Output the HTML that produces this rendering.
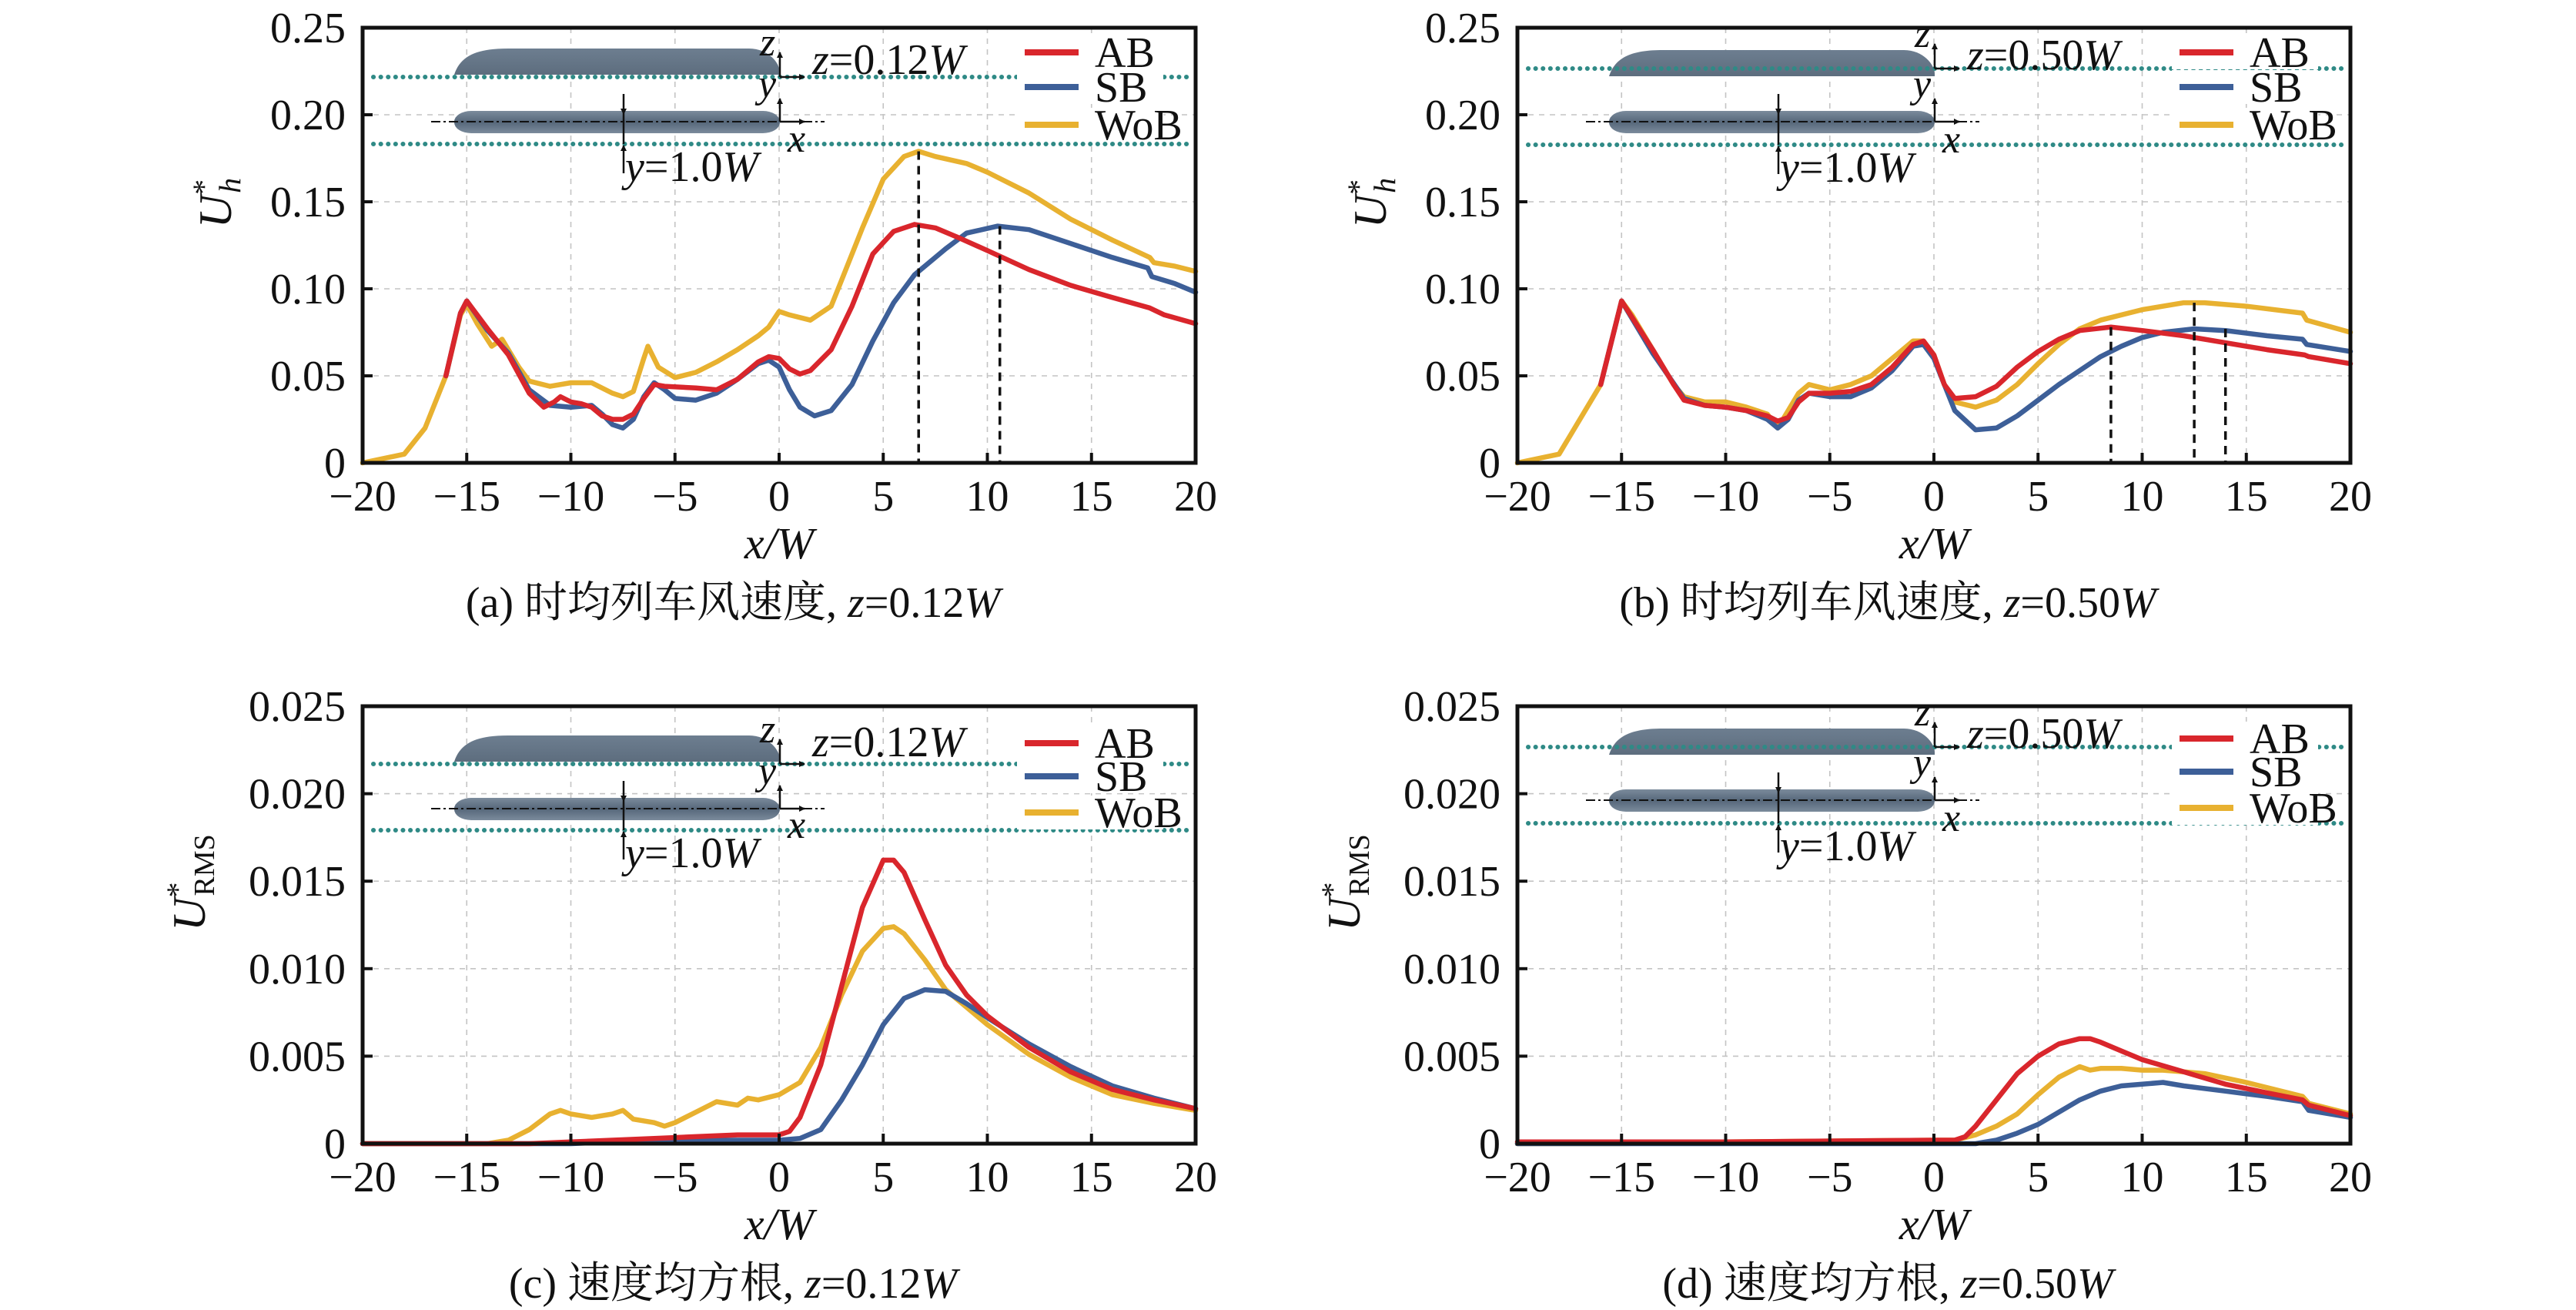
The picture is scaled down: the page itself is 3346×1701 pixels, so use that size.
<!DOCTYPE html>
<html><head><meta charset="utf-8">
<style>
html,body{margin:0;padding:0;background:#fff;}
svg{display:block;font-family:"Liberation Serif","Noto Serif CJK SC","Noto Sans CJK SC",serif;}
</style></head>
<body>
<svg id="fig" width="3346" height="1701" viewBox="0 0 3346 1701" xmlns="http://www.w3.org/2000/svg">
<defs>
<linearGradient id="trainSide" x1="0" y1="0" x2="0" y2="1"><stop offset="0" stop-color="#6d7e90"/><stop offset="1" stop-color="#5d6d7e"/></linearGradient>
<linearGradient id="trainTop" x1="0" y1="0" x2="0" y2="1"><stop offset="0" stop-color="#7b8b9c"/><stop offset="0.5" stop-color="#56677a"/><stop offset="1" stop-color="#7b8b9c"/></linearGradient>
<marker id="arr" markerWidth="8" markerHeight="8" refX="7" refY="4" orient="auto" markerUnits="userSpaceOnUse"><path d="M0,0 L8,4 L0,8 Z" fill="#111"/></marker>
</defs>
</svg>
<script>
// ---------- data ----------
const seriesNames = ["AB", "SB", "WoB"];
const xTicks = [-20, -15, -10, -5, 0, 5, 10, 15, 20];
const yTicksMean = [0, 0.05, 0.10, 0.15, 0.20, 0.25];
const yTickLabelsMean = ["0", "0.05", "0.10", "0.15", "0.20", "0.25"];
const yTicksRms = [0, 0.005, 0.010, 0.015, 0.020, 0.025];
const yTickLabelsRms = ["0", "0.005", "0.010", "0.015", "0.020", "0.025"];

// panel (a)
const aWoBx = [-20,-18,-17,-16,-15.3,-15,-14.5,-13.8,-13.3,-12.5,-12,-11,-10,-9,-8,-7.5,-7,-6.5,-6.3,-5.8,-5,-4,-3,-2,-1,-0.5,0,0.5,1.5,2.5,3,4,5,6,6.7,7.5,9,10,12,14,16,17.8,18,19,20];
const aWoBy = [0,0.005,0.02,0.05,0.085,0.091,0.08,0.067,0.071,0.055,0.047,0.044,0.046,0.046,0.04,0.038,0.041,0.06,0.067,0.055,0.049,0.052,0.058,0.065,0.073,0.078,0.087,0.085,0.082,0.09,0.105,0.135,0.163,0.176,0.179,0.176,0.172,0.167,0.155,0.14,0.128,0.118,0.115,0.113,0.11];
const aABx = [-16,-15.3,-15,-14,-13,-12,-11.3,-10.8,-10.5,-10,-9.5,-9,-8.5,-8,-7.5,-7,-6.5,-6,-5.5,-4,-3,-2,-1,-0.5,0,0.5,1,1.5,2.5,3.5,4.5,5.5,6.5,7.5,8.5,10,12,14,16,17.8,18.5,20];
const aABy = [0.05,0.086,0.093,0.077,0.062,0.04,0.032,0.035,0.038,0.035,0.034,0.032,0.027,0.025,0.025,0.028,0.037,0.045,0.044,0.043,0.042,0.048,0.058,0.061,0.06,0.054,0.051,0.053,0.065,0.09,0.12,0.133,0.137,0.135,0.13,0.122,0.111,0.102,0.095,0.089,0.085,0.08];
const aSBx = [-16,-15.3,-15,-14,-13,-12,-11,-10,-9,-8.5,-8,-7.5,-7,-6.5,-6,-5.5,-5,-4,-3,-2,-1,-0.5,0,0.5,1,1.7,2.5,3.5,4.5,5.5,6.5,8,9,10.5,12,14,16,17.7,17.9,19,20];
const aSBy = [0.05,0.086,0.093,0.076,0.063,0.042,0.033,0.032,0.033,0.028,0.022,0.02,0.025,0.038,0.046,0.042,0.037,0.036,0.04,0.048,0.057,0.059,0.055,0.042,0.032,0.027,0.03,0.045,0.07,0.092,0.108,0.123,0.132,0.136,0.134,0.126,0.118,0.112,0.107,0.103,0.098];
const aPeakX = [6.7, 10.6];
const aPeakY = [0.179, 0.136];

// panel (b)
const bWoBx = [-20,-18,-16,-15,-14.5,-13.5,-12.5,-12,-11,-10,-9,-8,-7.5,-7,-6.5,-6,-5,-4,-3,-2,-1,-0.5,0,0.5,1,2,3,4,5,6,7,8,10,12,13,15,17.7,17.9,20];
const bWoBy = [0,0.005,0.045,0.093,0.085,0.065,0.045,0.038,0.035,0.035,0.032,0.028,0.02,0.03,0.04,0.045,0.042,0.045,0.05,0.06,0.07,0.07,0.062,0.045,0.035,0.032,0.036,0.045,0.057,0.068,0.077,0.082,0.088,0.092,0.092,0.09,0.086,0.082,0.075];
const bABx = [-16,-15,-13.5,-12.5,-12,-11,-10,-9,-8,-7.5,-7,-6.5,-6,-5,-4,-3,-2,-1,-0.5,0,0.5,1,2,3,4,5,6,7,8.5,10,12,14,16,17.8,18,20];
const bABy = [0.045,0.093,0.065,0.045,0.036,0.033,0.032,0.03,0.027,0.024,0.026,0.035,0.04,0.04,0.041,0.045,0.055,0.068,0.07,0.062,0.045,0.037,0.038,0.044,0.055,0.064,0.071,0.076,0.078,0.076,0.073,0.069,0.065,0.062,0.061,0.057];
const bSBx = [-16,-15,-13.5,-12,-11,-10,-9,-8,-7.5,-7,-6.5,-6,-5,-4,-3,-2,-1,-0.5,0,0.5,1,2,3,4,5,6,7,8,9,10,11,12.5,14,16,17.7,17.9,20];
const bSBy = [0.045,0.093,0.063,0.037,0.033,0.032,0.03,0.025,0.02,0.025,0.036,0.04,0.038,0.038,0.043,0.053,0.067,0.068,0.06,0.045,0.03,0.019,0.02,0.027,0.036,0.045,0.053,0.061,0.067,0.072,0.075,0.077,0.076,0.073,0.071,0.068,0.064];
const bPeakX = [8.5, 12.5, 14];
const bPeakY = [0.078, 0.092, 0.077];

// panel (c)
const cWoBx = [-20,-14,-13,-12,-11,-10.5,-10,-9,-8,-7.5,-7,-6,-5.5,-5,-4,-3,-2,-1.5,-1,0,1,2,3,4,5,5.5,6,7,8,10,12,14,16,18,20];
const cWoBy = [0,0,0.0002,0.0008,0.0017,0.0019,0.0017,0.0015,0.0017,0.0019,0.0014,0.0012,0.001,0.0012,0.0018,0.0024,0.0022,0.0026,0.0025,0.0028,0.0035,0.0055,0.0085,0.011,0.0123,0.0124,0.012,0.0105,0.0088,0.0068,0.0051,0.0038,0.0028,0.0023,0.0019];
const cABx = [-20,-12,-10,-8,-6,-4,-2,0,0.5,1,2,3,4,5,5.5,6,7,8,9,10,12,14,16,18,20];
const cABy = [0,0,0.0001,0.0002,0.0003,0.0004,0.0005,0.0005,0.0007,0.0015,0.0045,0.009,0.0135,0.0162,0.0162,0.0155,0.0128,0.0102,0.0085,0.0073,0.0055,0.0041,0.0031,0.0025,0.002];
const cSBx = [-20,-10,-8,-4,0,1,2,3,4,5,6,7,8,9,10,12,14,16,18,20];
const cSBy = [0,0,0.0001,0.0002,0.0002,0.0003,0.0008,0.0025,0.0045,0.0068,0.0083,0.0088,0.0087,0.008,0.0072,0.0057,0.0044,0.0033,0.0026,0.002];

// panel (d)
const dWoBx = [-20,-15,-10,-5,0,1,2,3,4,5,6,7,7.5,8,9,10,11,12,13,15,17.7,18,20];
const dWoBy = [0,0,0.0001,0.00015,0.0002,0.0002,0.0005,0.001,0.0017,0.0028,0.0038,0.0044,0.0042,0.0043,0.0043,0.0042,0.0042,0.0041,0.004,0.0035,0.0027,0.0023,0.0017];
const dABx = [-20,-10,0,1,1.5,2,3,4,5,6,7,7.5,8,9,10,12,14,16,17.7,18,20];
const dABy = [0.0001,0.0001,0.0002,0.0002,0.0004,0.001,0.0025,0.004,0.005,0.0057,0.006,0.006,0.0058,0.0053,0.0048,0.0041,0.0034,0.0029,0.0025,0.0022,0.0016];
const dSBx = [-20,2,2.5,3,4,5,6,7,8,9,10,11,12,14,16,17.7,18,20];
const dSBy = [0,0,0.0001,0.0002,0.0006,0.0011,0.0018,0.0025,0.003,0.0033,0.0034,0.0035,0.0033,0.003,0.0027,0.0024,0.0019,0.0015];

// ---------- drawing ----------
const NS = "http://www.w3.org/2000/svg";
const svg = document.getElementById("fig");
const COLORS = {AB:"#d9262c", SB:"#3d5f98", WoB:"#e8b130"};
function mk(tag, attrs, parent){
  const e = document.createElementNS(NS, tag);
  for (const k in attrs) e.setAttribute(k, attrs[k]);
  (parent || svg).appendChild(e);
  return e;
}

function panel(cfg){
  const g = mk("g", {});
  
  
  const L = cfg.left, T = cfg.top, R = L + 1082, B = cfg.bottom;
  const X = v => L + (v + 20) / 40 * (R - L);
  const Y = v => B - v / cfg.ymax * (B - T);

  // grid
  xTicks.forEach(t => {
    if (t === -20 || t === 20) return;
    const gl = mk("line", {x1:X(t), x2:X(t), y1:T, y2:B, stroke:"#c4c4c4", "stroke-width":1.6, "stroke-dasharray":"7,7"}, g);
    
    
  });
  cfg.yTicks.forEach(t => {
    if (t === 0 || t === cfg.ymax) return;
    const gl = mk("line", {x1:L, x2:R, y1:Y(t), y2:Y(t), stroke:"#c4c4c4", "stroke-width":1.6, "stroke-dasharray":"7,7"}, g);
    
    
  });

  // inset
  const ins = mk("g", {}, g);
  
  
  const tx0 = L + 119, tx1 = L + 542;
  const du = T + cfg.dotU, dl = T + cfg.dotL;
  const sideBot = du + cfg.sideOff;
  const side = mk("path", {d:`M${tx0},${sideBot} C${tx0+8},${sideBot-25} ${tx0+30},${sideBot-34} ${tx0+70},${sideBot-34} L${tx1-40},${sideBot-34} C${tx1-15},${sideBot-34} ${tx1},${sideBot-15} ${tx1},${sideBot-3} L${tx1},${sideBot} Z`, fill:"url(#trainSide)"}, ins);
  
  
  const cy = T + cfg.trainMid;
  const top = mk("rect", {x:tx0, y:cy-14, width:tx1-tx0, height:29, rx:22, ry:14, fill:"url(#trainTop)"}, ins);
  
  
  const cl = mk("line", {x1:L+89, x2:L+600, y1:cy, y2:cy, stroke:"#111", "stroke-width":2, "stroke-dasharray":"12,4,3,4"}, ins);
  
  
  [du, dl].forEach((yy, i) => {
    const dl1 = mk("line", {x1:L+14, x2:R-3, y1:yy, y2:yy, stroke:"#2f8a86", "stroke-width":6, "stroke-linecap":"round", "stroke-dasharray":"0.1,9.5"}, ins);
    
    
  });
  const ox = L + 542;
  [[ox, du, ox, du-32],[ox, du, ox+32, du],[ox, cy, ox, cy-30],[ox, cy, ox+32, cy]].forEach(a => {
    const ar = mk("line", {x1:a[0], y1:a[1], x2:a[2], y2:a[3], stroke:"#111", "stroke-width":2.5, "marker-end":"url(#arr)"}, ins);
    
    
  });
  const mx = L + 339;
  [[mx, cy-36, mx, cy-10],[mx, dl+38, mx, dl+2]].forEach(a => {
    const ar = mk("line", {x1:a[0], y1:a[1], x2:a[2], y2:a[3], stroke:"#111", "stroke-width":2.5, "marker-end":"url(#arr)"}, ins);
    
    
  });
  mk("line", {x1:mx, x2:mx, y1:cy-10, y2:dl, stroke:"#111", "stroke-width":2.5}, ins);
  const lbls = [["z", ox-26, du-28], ["y", ox-28, cy-32], ["x", ox+10, dl+10]];
  lbls.forEach(l => {
    const t = mk("text", {x:l[1], y:l[2], "font-size":52, "font-style":"italic", fill:"#111"}, ins);
    t.textContent = l[0];
    
    
  });
  const zl = mk("text", {x:L+584, y:T+cfg.zY, "font-size":56, fill:"#111"}, ins);
  zl.innerHTML = '<tspan font-style="italic">z</tspan>=0.' + cfg.zval + '<tspan font-style="italic">W</tspan>';
  
  
  const yl = mk("text", {x:mx+2, y:dl+48, "font-size":56, fill:"#111"}, ins);
  yl.innerHTML = '<tspan font-style="italic">y</tspan>=1.0<tspan font-style="italic">W</tspan>';
  
  

  // series
  cfg.series.forEach(s => {
    const d = s.x.map((v, i) => (i ? "L" : "M") + X(v).toFixed(1) + "," + Y(s.y[i]).toFixed(1)).join(" ");
    const p = mk("path", {d:d, fill:"none", stroke:COLORS[s.name], "stroke-width":6.5, "stroke-linejoin":"round", "stroke-linecap":"round"}, g);
    
    
  });
  if (cfg.peakX) cfg.peakX.forEach((v, i) => {
    const pl = mk("line", {x1:X(v), x2:X(v), y1:Y(cfg.peakY[i]), y2:B, stroke:"#111", "stroke-width":3.5, "stroke-dasharray":"11,8"}, g);
    
    
  });

  // legend
  const lg = mk("g", {}, g);
  
  
  seriesNames.forEach((n, i) => {
    const yy = T + cfg.legY[i];
    mk("rect", {x:R-232, y:yy-22, width:190, height:44, fill:"#fff"}, lg);
    const ln = mk("line", {x1:R-222, x2:R-152, y1:yy, y2:yy, stroke:COLORS[n], "stroke-width":8}, lg);
    
    
    const lt = mk("text", {x:R-131, y:yy+19, "font-size":56, fill:"#111"}, lg);
    lt.textContent = n;
    
    
  });

  const fr = mk("rect", {x:L, y:T, width:R-L, height:B-T, fill:"none", stroke:"#111", "stroke-width":5}, g);
  
  
  xTicks.forEach(t => {
    const tk = mk("line", {x1:X(t), x2:X(t), y1:B, y2:B-13, stroke:"#111", "stroke-width":4}, g);
    
    
    const tl = mk("text", {x:X(t), y:B+62, "font-size":56, "text-anchor":"middle", fill:"#111"}, g);
    tl.textContent = t < 0 ? "\u2212" + (-t) : String(t);
    
    
  });
  cfg.yTicks.forEach((t, i) => {
    const tk = mk("line", {x1:L, x2:L+13, y1:Y(t), y2:Y(t), stroke:"#111", "stroke-width":4}, g);
    
    
    const tl = mk("text", {x:L-22, y:Y(t)+19, "font-size":56, "text-anchor":"end", fill:"#111"}, g);
    tl.textContent = cfg.yLabels[i];
    
    
  });
  const xt = mk("text", {x:(L+R)/2, y:B+124, "font-size":58, "text-anchor":"middle", fill:"#111", "font-style":"italic"}, g);
  xt.textContent = "x/W";
  
  
  const yt = mk("text", {x:0, y:0, "font-size":60, "text-anchor":"middle", fill:"#111", transform:`translate(${L+cfg.ylabX},${(T+B)/2 - 55}) rotate(-90)`}, g);
  yt.innerHTML = cfg.rms
    ? '<tspan font-style="italic">U</tspan><tspan font-size="40" dy="-22">*</tspan><tspan font-size="38" dx="-18" dy="34">RMS</tspan>'
    : '<tspan font-style="italic">U</tspan><tspan font-size="40" dy="-22">*</tspan><tspan font-size="40" font-style="italic" dx="-18" dy="34">h</tspan>';
  
  
  const cap = mk("text", {x:(L+R)/2 - 60, y:B+200, "font-size":56, "text-anchor":"middle", fill:"#111"}, g);
  cap.innerHTML = cfg.caption + ', <tspan font-style="italic">z</tspan>=0.' + cfg.zval + '<tspan font-style="italic">W</tspan>';
  
  
}

panel({name:"panel-a", left:471, top:36, bottom:601, ymax:0.25, yTicks:yTicksMean, yLabels:yTickLabelsMean,
  dotU:64, dotL:151, sideOff:-3, trainMid:122, zY:60, zval:"12", legY:[32,77,126], ylabX:-171, rms:false,
  caption:"(a) 时均列车风速度",
  series:[{name:"WoB",x:aWoBx,y:aWoBy},{name:"SB",x:aSBx,y:aSBy},{name:"AB",x:aABx,y:aABy}], peakX:aPeakX, peakY:aPeakY});
panel({name:"panel-b", left:1971, top:36, bottom:601, ymax:0.25, yTicks:yTicksMean, yLabels:yTickLabelsMean,
  dotU:53, dotL:152, sideOff:10, trainMid:122, zY:54, zval:"50", legY:[32,77,126], ylabX:-171, rms:false,
  caption:"(b) 时均列车风速度",
  series:[{name:"WoB",x:bWoBx,y:bWoBy},{name:"SB",x:bSBx,y:bSBy},{name:"AB",x:bABx,y:bABy}], peakX:bPeakX, peakY:bPeakY});
panel({name:"panel-c", left:471, top:917, bottom:1485, ymax:0.025, yTicks:yTicksRms, yLabels:yTickLabelsRms,
  dotU:75, dotL:161, sideOff:-3, trainMid:133, zY:65, zval:"12", legY:[48,91,138], ylabX:-205, rms:true,
  caption:"(c) 速度均方根",
  series:[{name:"WoB",x:cWoBx,y:cWoBy},{name:"SB",x:cSBx,y:cSBy},{name:"AB",x:cABx,y:cABy}]});
panel({name:"panel-d", left:1971, top:917, bottom:1485, ymax:0.025, yTicks:yTicksRms, yLabels:yTickLabelsRms,
  dotU:53, dotL:152, sideOff:10, trainMid:122, zY:54, zval:"50", legY:[42,85,132], ylabX:-205, rms:true,
  caption:"(d) 速度均方根",
  series:[{name:"WoB",x:dWoBx,y:dWoBy},{name:"SB",x:dSBx,y:dSBy},{name:"AB",x:dABx,y:dABy}]});
</script>
</body></html>
